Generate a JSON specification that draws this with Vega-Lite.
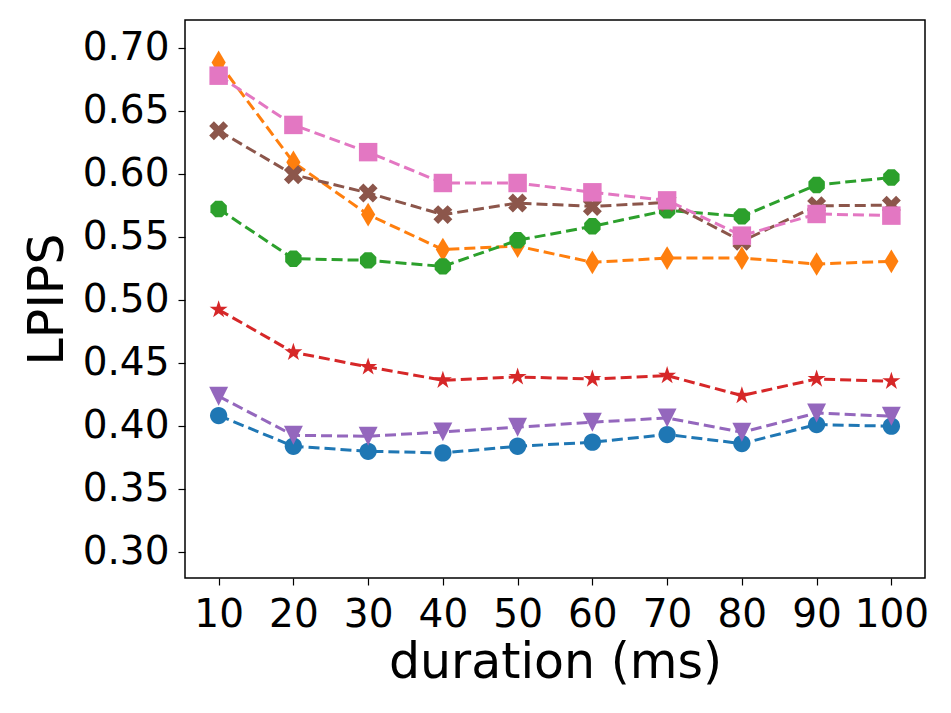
{
  "$schema": "https://vega.github.io/schema/vega-lite/v6.json",
  "width": 740,
  "height": 558,
  "autosize": {"type": "none"},
  "padding": {"left": 185, "top": 20, "right": 26, "bottom": 135},
  "background": "white",
  "config": {
    "view": {"stroke": "black", "strokeWidth": 1.5},
    "axis": {
      "domain": false,
      "grid": false,
      "tickColor": "black",
      "tickWidth": 1.2,
      "tickSize": 7,
      "labelFont": "DejaVu Sans",
      "labelFontSize": 39,
      "labelColor": "black",
      "titleFont": "DejaVu Sans",
      "titleFontSize": 49,
      "titleFontWeight": "normal",
      "titleColor": "black"
    }
  },
  "data": {
    "values": [
      {"duration": 10, "lpips": 0.408, "series": "s1"},
      {"duration": 20, "lpips": 0.3836, "series": "s1"},
      {"duration": 30, "lpips": 0.3796, "series": "s1"},
      {"duration": 40, "lpips": 0.3783, "series": "s1"},
      {"duration": 50, "lpips": 0.3836, "series": "s1"},
      {"duration": 60, "lpips": 0.3868, "series": "s1"},
      {"duration": 70, "lpips": 0.3929, "series": "s1"},
      {"duration": 80, "lpips": 0.3857, "series": "s1"},
      {"duration": 90, "lpips": 0.4008, "series": "s1"},
      {"duration": 100, "lpips": 0.3995, "series": "s1"},

      {"duration": 10, "lpips": 0.6883, "series": "s2"},
      {"duration": 20, "lpips": 0.609, "series": "s2"},
      {"duration": 30, "lpips": 0.5675, "series": "s2"},
      {"duration": 40, "lpips": 0.5397, "series": "s2"},
      {"duration": 50, "lpips": 0.5425, "series": "s2"},
      {"duration": 60, "lpips": 0.5296, "series": "s2"},
      {"duration": 70, "lpips": 0.533, "series": "s2"},
      {"duration": 80, "lpips": 0.533, "series": "s2"},
      {"duration": 90, "lpips": 0.5283, "series": "s2"},
      {"duration": 100, "lpips": 0.5304, "series": "s2"},

      {"duration": 10, "lpips": 0.572, "series": "s3"},
      {"duration": 20, "lpips": 0.5325, "series": "s3"},
      {"duration": 30, "lpips": 0.5312, "series": "s3"},
      {"duration": 40, "lpips": 0.5264, "series": "s3"},
      {"duration": 50, "lpips": 0.5471, "series": "s3"},
      {"duration": 60, "lpips": 0.5582, "series": "s3"},
      {"duration": 70, "lpips": 0.5709, "series": "s3"},
      {"duration": 80, "lpips": 0.5661, "series": "s3"},
      {"duration": 90, "lpips": 0.591, "series": "s3"},
      {"duration": 100, "lpips": 0.597, "series": "s3"},

      {"duration": 10, "lpips": 0.492, "series": "s4"},
      {"duration": 20, "lpips": 0.4582, "series": "s4"},
      {"duration": 30, "lpips": 0.4466, "series": "s4"},
      {"duration": 40, "lpips": 0.436, "series": "s4"},
      {"duration": 50, "lpips": 0.4386, "series": "s4"},
      {"duration": 60, "lpips": 0.437, "series": "s4"},
      {"duration": 70, "lpips": 0.4397, "series": "s4"},
      {"duration": 80, "lpips": 0.4238, "series": "s4"},
      {"duration": 90, "lpips": 0.437, "series": "s4"},
      {"duration": 100, "lpips": 0.4352, "series": "s4"},

      {"duration": 10, "lpips": 0.4233, "series": "s5"},
      {"duration": 20, "lpips": 0.3923, "series": "s5"},
      {"duration": 30, "lpips": 0.3915, "series": "s5"},
      {"duration": 40, "lpips": 0.395, "series": "s5"},
      {"duration": 50, "lpips": 0.3987, "series": "s5"},
      {"duration": 60, "lpips": 0.4027, "series": "s5"},
      {"duration": 70, "lpips": 0.4061, "series": "s5"},
      {"duration": 80, "lpips": 0.3947, "series": "s5"},
      {"duration": 90, "lpips": 0.41, "series": "s5"},
      {"duration": 100, "lpips": 0.4074, "series": "s5"},

      {"duration": 10, "lpips": 0.6341, "series": "s6"},
      {"duration": 20, "lpips": 0.5992, "series": "s6"},
      {"duration": 30, "lpips": 0.5847, "series": "s6"},
      {"duration": 40, "lpips": 0.5675, "series": "s6"},
      {"duration": 50, "lpips": 0.5767, "series": "s6"},
      {"duration": 60, "lpips": 0.574, "series": "s6"},
      {"duration": 70, "lpips": 0.5772, "series": "s6"},
      {"duration": 80, "lpips": 0.5463, "series": "s6"},
      {"duration": 90, "lpips": 0.5745, "series": "s6"},
      {"duration": 100, "lpips": 0.575, "series": "s6"},

      {"duration": 10, "lpips": 0.6778, "series": "s7"},
      {"duration": 20, "lpips": 0.6387, "series": "s7"},
      {"duration": 30, "lpips": 0.6171, "series": "s7"},
      {"duration": 40, "lpips": 0.5926, "series": "s7"},
      {"duration": 50, "lpips": 0.5926, "series": "s7"},
      {"duration": 60, "lpips": 0.5852, "series": "s7"},
      {"duration": 70, "lpips": 0.5788, "series": "s7"},
      {"duration": 80, "lpips": 0.5508, "series": "s7"},
      {"duration": 90, "lpips": 0.568, "series": "s7"},
      {"duration": 100, "lpips": 0.5667, "series": "s7"}
    ]
  },
  "encoding": {
    "x": {
      "field": "duration",
      "type": "quantitative",
      "scale": {"domain": [5.5, 104.5], "nice": false, "zero": false},
      "axis": {
        "title": "duration (ms)",
        "values": [10, 20, 30, 40, 50, 60, 70, 80, 90, 100],
        "labelPadding": 10,
        "titleBaseline": "alphabetic",
        "titleY": 99
      }
    },
    "y": {
      "field": "lpips",
      "type": "quantitative",
      "scale": {"domain": [0.279, 0.722], "nice": false, "zero": false},
      "axis": {
        "title": "LPIPS",
        "values": [0.3, 0.35, 0.4, 0.45, 0.5, 0.55, 0.6, 0.65, 0.7],
        "format": ".2f",
        "labelPadding": 9,
        "titleBaseline": "alphabetic",
        "titleAlign": "center",
        "titleX": -123,
        "titleY": 279
      }
    },
    "color": {
      "field": "series",
      "type": "nominal",
      "scale": {
        "domain": ["s1", "s2", "s3", "s4", "s5", "s6", "s7"],
        "range": ["#1f77b4", "#ff7f0e", "#2ca02c", "#d62728", "#9467bd", "#8c564b", "#e377c2"]
      },
      "legend": null
    }
  },
  "layer": [
    {
      "mark": {"type": "line", "strokeWidth": 3, "strokeDash": [11, 5]}
    },
    {
      "mark": {"type": "point", "filled": true, "opacity": 1, "strokeWidth": 0, "size": 560},
      "encoding": {
        "shape": {
          "field": "series",
          "type": "nominal",
          "scale": {
            "domain": ["s1", "s2", "s3", "s4", "s5", "s6", "s7"],
            "range": [
              "M0.73,0A0.73,0.73,0,1,1,-0.73,0A0.73,0.73,0,1,1,0.73,0Z",
              "M0,-1L0.6,0L0,1L-0.6,0Z",
              "M0.693,0.287L0.287,0.693L-0.287,0.693L-0.693,0.287L-0.693,-0.287L-0.287,-0.693L0.287,-0.693L0.693,-0.287Z",
              "M0,-0.8L0.18,-0.247L0.761,-0.247L0.29,0.094L0.47,0.647L0,0.306L-0.47,0.647L-0.29,0.094L-0.761,-0.247L-0.18,-0.247Z",
              "M-0.8,-0.8L0.8,-0.8L0,0.8Z",
              "M-0.4,-0.8L0,-0.4L0.4,-0.8L0.8,-0.4L0.4,0L0.8,0.4L0.4,0.8L0,0.4L-0.4,0.8L-0.8,0.4L-0.4,0L-0.8,-0.4Z",
              "M-0.78,-0.78L0.78,-0.78L0.78,0.78L-0.78,0.78Z"
            ]
          },
          "legend": null
        }
      }
    }
  ]
}
